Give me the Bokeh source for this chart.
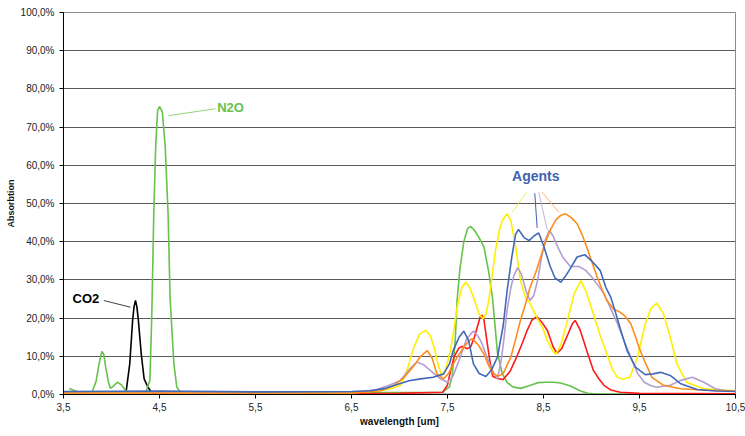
from bokeh.plotting import figure
from bokeh.models import Range1d, FixedTicker, Label, ColumnDataSource
from bokeh.embed import file_html
from bokeh.resources import INLINE

# ---------------- data (wavelength in um, absorption in %) ----------------
x_ticks = [3.5, 4.5, 5.5, 6.5, 7.5, 8.5, 9.5, 10.5]
x_tick_labels = ["3,5", "4,5", "5,5", "6,5", "7,5", "8,5", "9,5", "10,5"]
y_ticks = [0, 10, 20, 30, 40, 50, 60, 70, 80, 90, 100]
y_tick_labels = ["0,0%", "10,0%", "20,0%", "30,0%", "40,0%", "50,0%",
                 "60,0%", "70,0%", "80,0%", "90,0%", "100,0%"]

black_x = [3.5, 4.15, 4.19, 4.22, 4.235, 4.25, 4.265, 4.28, 4.31, 4.34, 4.38, 4.42, 4.5, 10.5]
black_y = [0, 0.3, 8, 19.4, 23.0, 24.6, 22.8, 19.4, 10.6, 4.1, 1.9, 0.5, 0, 0]

green_x = [3.56, 3.60, 3.64, 3.72, 3.80, 3.84, 3.87, 3.90, 3.92, 3.94, 3.97, 3.99, 4.02, 4.06, 4.10,
           4.13, 4.16, 4.25, 4.36, 4.40, 4.42, 4.44, 4.46, 4.48, 4.50, 4.53, 4.56, 4.59, 4.61, 4.65,
           4.68, 4.72, 4.80, 5.2, 5.8, 6.4, 7.0, 7.45, 7.52, 7.55, 7.58, 7.60, 7.63, 7.67, 7.71,
           7.74, 7.78, 7.83, 7.88, 7.93, 7.97, 8.02, 8.07, 8.12, 8.18, 8.26, 8.35, 8.44, 8.52, 8.6,
           8.68, 8.78, 8.88, 8.96, 9.05, 10.5]
green_y = [1.6, 1.2, 0.8, 0.7, 0.8, 3.5, 8.0, 11.3, 10.5, 7.1, 3.0, 1.6, 2.2, 3.2, 2.6,
           1.6, 0.8, 0.6, 0.8, 3.7, 21, 47, 64.7, 74.3, 75.4, 73.9, 64.7, 47, 25.5, 8.0,
           1.9, 0.6, 0.5, 0.5, 0.5, 0.5, 0.5, 0.6, 2.0, 5.0, 14, 24.6, 33, 40, 43.5,
           44, 43, 41, 38.6, 32, 25, 11, 5.5, 3.2, 2.0, 1.6, 2.3, 3.1, 3.2, 3.2,
           3.0, 2.2, 1.0, 0.3, 0.1, 0.1]

red_x = [3.5, 7.0, 7.45, 7.5, 7.53, 7.57, 7.62, 7.66, 7.7, 7.74, 7.78, 7.81, 7.84, 7.86, 7.88,
         7.91, 7.94, 7.97, 8.02, 8.08, 8.15, 8.22, 8.28, 8.33, 8.38, 8.43, 8.48, 8.54, 8.6, 8.64,
         8.69, 8.75, 8.8, 8.83, 8.88, 8.95, 9.02, 9.08, 9.13, 9.2, 9.3, 9.5, 10.5]
red_y = [0.2, 0.3, 0.6, 2.5, 6, 10, 12.2, 12.6, 12.0, 12.4, 15, 17.6, 20.3, 20.8, 19.5,
         14.1, 9, 4.8, 4.2, 3.9, 6, 9.8, 13.5, 16.8, 19.5, 20.4, 19, 16.8, 12.5, 10.8,
         12, 15.5, 18.5, 19.4, 17, 11.5, 6.3, 4, 2.4, 1.2, 0.6, 0.3, 0.2]

yellow_x = [3.5, 4.4, 4.5, 4.6, 5.5, 6.5, 6.8, 6.92, 7.01, 7.08, 7.15, 7.21, 7.27, 7.32, 7.36,
            7.41, 7.44, 7.48, 7.53, 7.57, 7.6, 7.65, 7.69, 7.73, 7.77, 7.83, 7.87, 7.9, 7.93, 7.97,
            8.0, 8.04, 8.07, 8.12, 8.16, 8.21, 8.26, 8.31, 8.36, 8.43, 8.49, 8.54, 8.6, 8.63, 8.68,
            8.75, 8.82, 8.89, 8.95, 9.02, 9.09, 9.16, 9.22, 9.27, 9.33, 9.4, 9.48, 9.56, 9.62, 9.68,
            9.75, 9.82, 9.89, 9.99, 10.17, 10.5]
yellow_y = [0.4, 0.4, 0.9, 0.5, 0.4, 0.4, 1.0, 1.6, 2.4, 6.5, 12.4, 15.8, 16.8, 15.5, 12.4,
            7.1, 5.0, 6.5, 11.5, 17.5, 22.9, 28, 29.4, 28, 25.5, 21.1, 19.8, 21, 24.6, 32,
            37.7, 43, 45.5, 47.3, 45.5, 38.6, 29.8, 25.5, 23.8, 20.2, 17.5, 14.1, 11.2, 10.6, 13,
            19.4, 26.5, 29.8, 26.5, 21, 15.5, 10.6, 6.5, 4.5, 4.0, 4.6, 9.8, 18.6, 22.5, 23.9,
            21.1, 15, 8.0, 3.2, 1.5, 1.0]

purple_x = [3.5, 6.5, 6.75, 6.9, 7.01, 7.1, 7.18, 7.25, 7.32, 7.42, 7.5, 7.56, 7.62, 7.7, 7.77,
            7.82, 7.86, 7.95, 8.02, 8.06, 8.09, 8.12, 8.16, 8.19, 8.23, 8.27, 8.32, 8.36, 8.4, 8.44,
            8.48, 8.52, 8.56, 8.6, 8.65, 8.7, 8.78, 8.87, 8.94, 9.0, 9.07, 9.13, 9.2, 9.27, 9.34,
            9.41, 9.48, 9.55, 9.62, 9.68, 9.82, 9.93, 10.05, 10.17, 10.29, 10.4, 10.5]
purple_y = [0.5, 0.6, 1.2, 2.5, 3.7, 6.5, 8.5, 7.8, 6.3, 4.2, 3.2, 5, 8.9, 14.6, 16.6,
            15.2, 13.3, 7.1, 4.1, 9, 15, 22, 28, 31, 33.2, 31.5, 27, 24.6, 26, 30,
            36, 40.5, 43, 41.5, 38.5, 36, 33.5, 33.5, 32.5, 30.8, 28.5, 26.4, 22.5, 18.6, 14,
            9.8, 5.5, 3.2, 2.3, 1.9, 2.4, 3.7, 4.5, 3.2, 1.5, 1.0, 0.8]

orange_x = [3.5, 6.5, 6.8, 6.95, 7.05, 7.15, 7.22, 7.29, 7.34, 7.39, 7.46, 7.51, 7.56, 7.62, 7.67,
            7.72, 7.76, 7.82, 7.88, 7.93, 7.98, 8.03, 8.08, 8.16, 8.21, 8.26, 8.31, 8.36, 8.42, 8.47,
            8.52, 8.57, 8.63, 8.68, 8.73, 8.79, 8.85, 8.9, 8.95, 9.0, 9.06, 9.11, 9.16, 9.23, 9.3,
            9.35, 9.41, 9.46, 9.5, 9.55, 9.63, 9.75, 9.93, 10.2, 10.5]
orange_y = [0.4, 0.4, 1.0, 2.5, 4.5, 7.5, 10, 11.5, 9.5, 5.4, 4.1, 5.5, 8, 10.5, 12.4,
            14, 14.6, 13, 10.6, 7.5, 5.4, 4.8, 5.5, 9.8, 14.5, 19.4, 23.5, 28, 32, 35.9,
            39.8, 43, 45.8, 46.9, 47.3, 46.3, 44.7, 42, 38.6, 35, 30.7, 27.5, 24.6, 22.4, 21.5,
            20.5, 18.5, 15, 12, 8.9, 4.5, 2.4, 1.5, 1.1, 0.9]

blue_x = [3.5, 4.5, 5.5, 6.5, 6.7, 6.85, 7.0, 7.1, 7.22, 7.35, 7.46, 7.52, 7.56, 7.62, 7.67,
          7.72, 7.77, 7.83, 7.9, 7.96, 8.02, 8.08, 8.12, 8.17, 8.21, 8.24, 8.3, 8.35, 8.4, 8.45,
          8.5, 8.57, 8.62, 8.68, 8.73, 8.78, 8.85, 8.93, 9.0, 9.09, 9.15, 9.2, 9.25, 9.3, 9.37,
          9.41, 9.46, 9.56, 9.64, 9.72, 9.82, 9.93, 10.1, 10.3, 10.5]
blue_y = [0.8, 0.9, 0.7, 0.8, 1.0, 1.6, 2.8, 3.6, 4.1, 4.5, 5.4, 8.0, 11.5, 15.0, 16.6,
          14.1, 8.0, 5.5, 4.7, 6.5, 9.8, 18, 27, 36, 42, 43.2, 41, 40.3, 41.5, 42.3,
          39, 33.5, 30.5, 29.4, 31, 33, 36, 36.6, 35, 32.5, 28, 25.5, 21.5, 17.2, 11.5,
          9.5, 7.1, 5.2, 5.4, 5.8, 5.0, 2.8, 1.3, 0.9, 0.8]

# annotations: text labels and their leader lines (data units)
label_texts = ["N2O", "CO2", "Agents"]
label_x = [5.24, 3.734, 8.42]
label_y = [75.2, 25.1, 57.1]
label_colors = ["#66C24A", "#000000", "#4062B0"]
label_sizes = ["13px", "13px", "14px"]

leader_x0 = [5.083, 3.92, 8.323, 8.409, 8.451, 8.486]
leader_y0 = [74.8, 24.6, 52.96, 52.7, 52.96, 52.96]
leader_x1 = [4.597, 4.198, 8.174, 8.434, 8.539, 8.659]
leader_y1 = [73.0, 22.85, 47.72, 43.6, 43.1, 47.72]
leader_colors = ["#8FD47A", "#404040", "#F5F060", "#4062B0", "#C3B3DA", "#FFB070"]

# ---------------- figure ----------------
p = figure(width=745, height=436, output_backend="svg", toolbar_location=None,
           x_range=Range1d(3.5, 10.5), y_range=Range1d(0, 100),
           min_border_left=63, min_border_right=10, min_border_top=12, min_border_bottom=42)
p.background_fill_color = "white"
p.border_fill_color = "white"
p.outline_line_color = "#8c8c8c"
p.outline_line_width = 1

series = [
    (black_x, black_y, "#000000"),
    (green_x, green_y, "#66C24A"),
    (red_x, red_y, "#FF1A1A"),
    (yellow_x, yellow_y, "#FFF000"),
    (purple_x, purple_y, "#B39DD2"),
    (orange_x, orange_y, "#FF8C1A"),
    (blue_x, blue_y, "#4169B8"),
]
for xs, ys, c in series:
    p.line(xs, ys, line_color=c, line_width=1.6)

src = ColumnDataSource(dict(x0=leader_x0, y0=leader_y0, x1=leader_x1, y1=leader_y1, c=leader_colors))
p.segment(x0="x0", y0="y0", x1="x1", y1="y1", line_color="c", line_width=1, source=src)

for t, lx, ly, c, s in zip(label_texts, label_x, label_y, label_colors, label_sizes):
    p.add_layout(Label(x=lx, y=ly, text=t, text_color=c, text_font="Liberation Sans",
                       text_font_style="bold", text_font_size=s,
                       text_align="center", text_baseline="middle"))

# axes
p.xgrid.visible = False
p.ygrid.ticker = FixedTicker(ticks=y_ticks)
p.ygrid.grid_line_color = "#5a5a5a"
p.ygrid.grid_line_width = 1

p.xaxis.ticker = FixedTicker(ticks=x_ticks)
p.xaxis.major_label_overrides = {v: s for v, s in zip(x_ticks, x_tick_labels)}
p.yaxis.ticker = FixedTicker(ticks=y_ticks)
p.yaxis.major_label_overrides = {v: s for v, s in zip(y_ticks, y_tick_labels)}

for ax in (p.xaxis[0], p.yaxis[0]):
    ax.axis_line_color = "black"
    ax.axis_line_width = 1
    ax.major_tick_line_color = "black"
    ax.major_tick_in = 0
    ax.major_tick_out = 4
    ax.minor_tick_line_color = None
    ax.major_label_text_font = "Liberation Sans"
    ax.major_label_text_font_size = "10px"
    ax.major_label_text_color = "#222222"
    ax.axis_label_text_font = "Liberation Sans"
    ax.axis_label_text_font_style = "bold"
    ax.axis_label_text_color = "#111111"

p.xaxis.axis_label = "wavelength [um]"
p.xaxis.axis_label_text_font_size = "10px"
p.xaxis.major_label_standoff = 4
p.xaxis.axis_label_standoff = 2

p.yaxis.axis_label = "Absorbtion"
p.yaxis.axis_label_text_font_size = "9px"
p.yaxis.major_label_standoff = 5
p.yaxis.axis_label_standoff = 2

open("out.html", "w").write(file_html(p, INLINE))
